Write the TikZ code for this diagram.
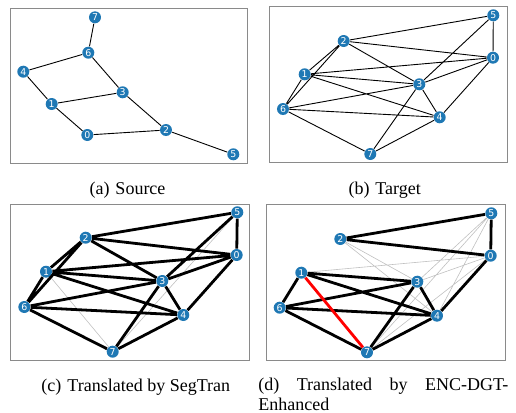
\documentclass[tikz,border=0pt]{standalone}
\usepackage{fontspec}
\newfontfamily\dejavu{DejaVu Sans}
\newfontfamily\capfont{Liberation Serif}
\definecolor{nxblue}{HTML}{1F78B4}
\definecolor{ltgray}{HTML}{C0C0C0}
\definecolor{framegray}{HTML}{8A8A8A}
\begin{document}
\begin{tikzpicture}[x=0.5pt,y=-0.5pt,
  vtx/.style={circle,fill=nxblue,inner sep=0pt,minimum size=6pt,text=white,font=\dejavu\fontsize{4.7}{5}\selectfont},
  frm/.style={draw=framegray,line width=0.5pt},
  thinedge/.style={black,line width=0.45pt},
  thickedge/.style={black,line width=1.4pt},
  faintedge/.style={ltgray,line width=0.3pt},
  wrongedge/.style={red,line width=1.4pt},
  captxt/.style={anchor=base,inner sep=0pt,font=\capfont\fontsize{9}{11}\selectfont}]
\useasboundingbox (0,0) rectangle (516,413);
% frames
\draw[frm] (10.7,8.3) rectangle (247.3,163.3);
\draw[frm] (270,6.7) rectangle (507.3,162.7);
\draw[frm] (11,204) rectangle (249.3,360.7);
\draw[frm] (266.3,204.3) rectangle (505.3,360.7);
% ---------- (a) Source
\node[vtx] (a7) at (95,17.3) {7};
\node[vtx] (a6) at (88.3,52.7) {6};
\node[vtx] (a4) at (23.3,71.7) {4};
\node[vtx] (a3) at (122.7,92.3) {3};
\node[vtx] (a1) at (51.7,104) {1};
\node[vtx] (a0) at (87.3,135) {0};
\node[vtx] (a2) at (166,130) {2};
\node[vtx] (a5) at (233.3,154.3) {5};
\draw[thinedge] (a7)--(a6) (a6)--(a4) (a6)--(a3) (a4)--(a1) (a1)--(a3) (a1)--(a0) (a3)--(a2) (a0)--(a2) (a2)--(a5);
% ---------- (b) Target
\node[vtx] (b5) at (493.3,15.3) {5};
\node[vtx] (b2) at (343.7,41) {2};
\node[vtx] (b0) at (493,57.7) {0};
\node[vtx] (b1) at (304.7,74.3) {1};
\node[vtx] (b3) at (419.3,84.3) {3};
\node[vtx] (b6) at (283,109) {6};
\node[vtx] (b4) at (439.7,117.3) {4};
\node[vtx] (b7) at (370.3,154) {7};
\draw[thinedge] (b2)--(b5) (b5)--(b0) (b2)--(b0) (b2)--(b1) (b2)--(b6) (b2)--(b3)
  (b1)--(b0) (b1)--(b3) (b1)--(b4) (b1)--(b6) (b6)--(b3) (b6)--(b4) (b6)--(b7)
  (b3)--(b0) (b3)--(b5) (b3)--(b4) (b3)--(b7) (b0)--(b4) (b4)--(b7);
% ---------- (c) SegTran
\node[vtx] (c5) at (237.3,212.3) {5};
\node[vtx] (c2) at (85.7,237.7) {2};
\node[vtx] (c0) at (236.7,255) {0};
\node[vtx] (c1) at (46,271.7) {1};
\node[vtx] (c3) at (162.3,281) {3};
\node[vtx] (c6) at (24.3,307) {6};
\node[vtx] (c4) at (183.3,315) {4};
\node[vtx] (c7) at (112.7,351.7) {7};
\draw[faintedge] (c1)--(c7) (c7)--(c5);
\draw[thickedge] (c2)--(c5) (c5)--(c0) (c2)--(c0) (c2)--(c1) (c2)--(c6) (c2)--(c3)
  (c1)--(c0) (c1)--(c3) (c1)--(c4) (c1)--(c6) (c6)--(c3) (c6)--(c4) (c6)--(c7)
  (c3)--(c0) (c3)--(c5) (c3)--(c4) (c3)--(c7) (c0)--(c4) (c4)--(c7);
% ---------- (d) ENC-DGT-Enhanced
\node[vtx] (d5) at (491.3,213.3) {5};
\node[vtx] (d0) at (490.7,255.7) {0};
\node[vtx] (d2) at (340.3,239) {2};
\node[vtx] (d1) at (301.3,272.7) {1};
\node[vtx] (d3) at (417.3,281.7) {3};
\node[vtx] (d6) at (279.7,307.7) {6};
\node[vtx] (d4) at (437,315.7) {4};
\node[vtx] (d7) at (367,352.3) {7};
\draw[faintedge] (d2)--(d3) (d2)--(d4) (d1)--(d0) (d3)--(d5) (d3)--(d0) (d4)--(d5) (d7)--(d5) (d7)--(d0);
\draw[thickedge] (d2)--(d5) (d2)--(d0) (d5)--(d0) (d1)--(d3) (d1)--(d4) (d1)--(d6)
  (d6)--(d3) (d6)--(d4) (d6)--(d7) (d3)--(d4) (d3)--(d7) (d0)--(d4) (d4)--(d7);
\draw[wrongedge] (d1)--(d7);
% ---------- captions
\node[captxt] (capa) at (127.5,194.3) {(a)\hspace{3pt}Source};
\node[captxt] (capb) at (384.7,194.3) {(b)\hspace{3pt}Target};
\node[captxt] (capc) at (135.8,391.7) {(c)\hspace{3pt}Translated by SegTran};
\node[captxt,anchor=base west] (capd) at (258,390) {\hbox to 125pt{(d)\hfill Translated\hfill by\hfill ENC-DGT-}};
\node[captxt,anchor=base west] (capd2) at (258,410.7) {Enhanced};
\end{tikzpicture}
\end{document}
